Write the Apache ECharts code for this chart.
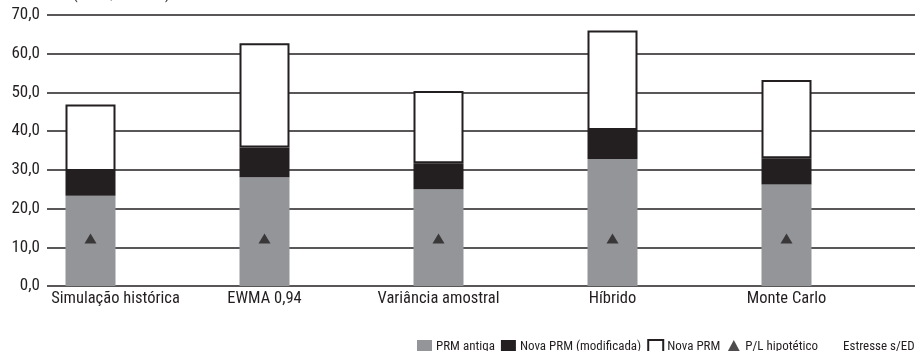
<!DOCTYPE html>
<html>
<head>
<meta charset="utf-8">
<script src="https://cdn.jsdelivr.net/npm/echarts@6/dist/echarts.min.js"></script>
<style>
  html, body { margin: 0; padding: 0; background: #fff; }
  #chart { width: 915px; height: 351px; }
</style>
</head>
<body>
<div id="chart"></div>
<script>
// Methods compared
const categories = ['Simulação histórica', 'EWMA 0,94', 'Variância amostral', 'Híbrido', 'Monte Carlo'];

// Stacked segment heights (R$ milhões)
const prmAntiga = [23.3, 28.1, 25.0, 32.8, 26.2];
const novaPrmModificada = [6.4, 7.7, 6.7, 7.5, 6.8];
const novaPrm = [17.2, 26.9, 18.7, 25.7, 20.2];
const plHipotetico = [12.3, 12.3, 12.3, 12.3, 12.3];
const estresseSemED = [];

const yTicks = { min: 0, max: 70, interval: 10 };

const FONT = 'Roboto Condensed';
const INK = '#231f20';

const chart = echarts.init(document.getElementById('chart'), null, { renderer: 'canvas' });

chart.setOption({
  animation: false,
  backgroundColor: '#fff',
  textStyle: { fontFamily: FONT },
  title: {
    text: '(em R$ milhões)',
    left: 68, top: -17,
    textStyle: { fontFamily: FONT, fontSize: 15, fontWeight: 'normal', color: INK }
  },
  grid: [
    // value grid: horizontal rules and y labels
    { left: 47, right: 0, top: 15, bottom: 65, containLabel: false },
    // bar grid: category bands
    { left: 3.5, width: 870, top: 15, bottom: 65, containLabel: false }
  ],
  xAxis: [
    { gridIndex: 0, type: 'category', data: categories, show: false },
    {
      gridIndex: 1, type: 'category',
      data: categories.map((c, i) => i === 0
        ? { value: c, textStyle: { padding: [0, 0, 0, 50] } }
        : c),
      axisLine: { show: false },
      axisTick: { show: false },
      axisLabel: { margin: 4, fontFamily: FONT, fontSize: 16.5, color: INK, interval: 0 }
    }
  ],
  yAxis: [
    {
      gridIndex: 0, type: 'value',
      min: yTicks.min, max: yTicks.max, interval: yTicks.interval,
      axisLine: { show: false },
      axisTick: { show: false },
      axisLabel: {
        margin: 7, fontFamily: FONT, fontSize: 17, color: INK,
        formatter: v => v.toFixed(1).replace('.', ',')
      },
      splitLine: { show: true, lineStyle: { color: INK, width: 1.7 } }
    },
    {
      gridIndex: 1, type: 'value',
      min: yTicks.min, max: yTicks.max, interval: yTicks.interval,
      show: false, splitLine: { show: false }
    }
  ],
  legend: {
    left: 412, top: 334, width: 700,
    itemWidth: 15, itemHeight: 14, itemGap: 6,
    textStyle: { fontFamily: FONT, fontSize: 13, color: INK, padding: [0, 0, 0, -1] },
    data: [
      { name: 'PRM antiga', icon: 'rect' },
      { name: 'Nova PRM (modificada)', icon: 'rect' },
      { name: 'Nova PRM', icon: 'rect' },
      { name: 'P/L hipotético', icon: 'triangle' },
      { name: 'Estresse s/ED', icon: 'rect', itemStyle: { opacity: 0 } }
    ]
  },
  series: [
    {
      name: 'PRM antiga', type: 'bar', stack: 'prm',
      xAxisIndex: 1, yAxisIndex: 1, barWidth: 50,
      itemStyle: { color: '#939598' },
      data: prmAntiga
    },
    {
      name: 'Nova PRM (modificada)', type: 'bar', stack: 'prm',
      xAxisIndex: 1, yAxisIndex: 1, barWidth: 50,
      itemStyle: { color: INK },
      data: novaPrmModificada
    },
    {
      name: 'Nova PRM', type: 'bar', stack: 'prm',
      xAxisIndex: 1, yAxisIndex: 1, barWidth: 50,
      itemStyle: { color: '#fff', borderColor: INK, borderWidth: 2 },
      data: novaPrm
    },
    {
      name: 'P/L hipotético', type: 'scatter',
      xAxisIndex: 1, yAxisIndex: 1,
      symbol: 'triangle', symbolSize: [12, 10],
      itemStyle: { color: INK },
      z: 5,
      data: plHipotetico
    },
    {
      name: 'Estresse s/ED', type: 'bar', stack: 'prm',
      xAxisIndex: 1, yAxisIndex: 1, barWidth: 50,
      itemStyle: { color: INK },
      data: estresseSemED
    }
  ]
});
</script>
</body>
</html>
